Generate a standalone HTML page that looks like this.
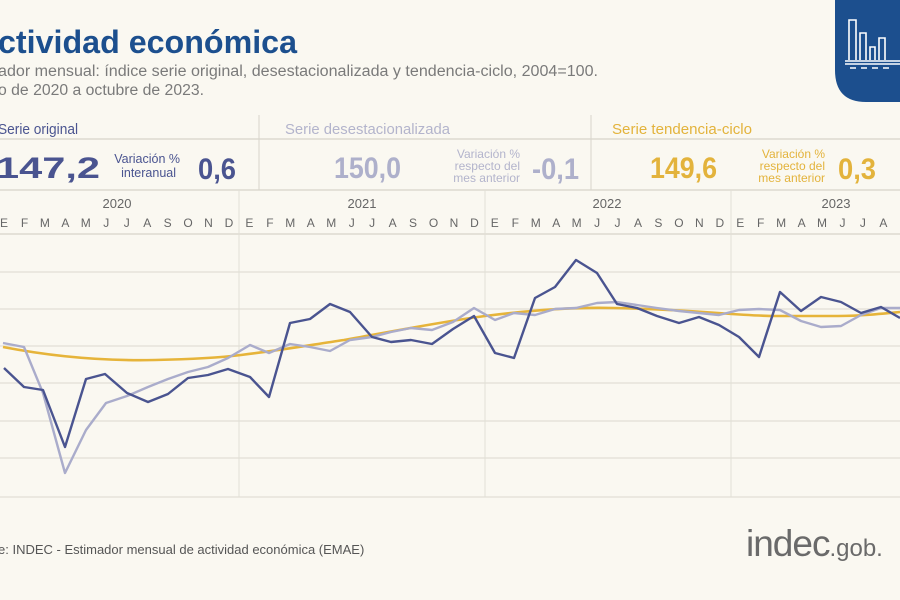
<!DOCTYPE html>
<html><head><meta charset="utf-8"><style>
html,body{margin:0;padding:0;background:#faf8f1;}
svg{display:block;font-family:"Liberation Sans",sans-serif;}
</style></head><body>
<svg width="900" height="600" viewBox="0 0 900 600" xmlns="http://www.w3.org/2000/svg">
<rect width="900" height="600" fill="#faf8f1"/>
<path d="M835 0 H900 V102 H866 Q835 102 835 70 Z" fill="#1c4f8e"/>
<g stroke="#fff" stroke-width="1.6" fill="none">
<path d="M849 60 V20 H856 V60"/><path d="M860 60 V33 H866 V60"/><path d="M870 60 V47 H875 V60"/><path d="M879 60 V38 H885 V60"/>
<path d="M845 61 H900"/><path d="M845 64 H900"/><path d="M850 68 H856 M861 68 H867 M872 68 H878 M883 68 H889"/>
</g>
<text x="-2" y="53" font-size="32" font-weight="bold" fill="#1c4f8e" textLength="299" lengthAdjust="spacingAndGlyphs">ctividad económica</text>
<text x="-2" y="76" font-size="15.5" fill="#7a7a7a" textLength="600" lengthAdjust="spacingAndGlyphs">ador mensual: índice serie original, desestacionalizada y tendencia-ciclo, 2004=100.</text>
<text x="-2" y="95" font-size="15.5" fill="#7a7a7a" textLength="206" lengthAdjust="spacingAndGlyphs">o de 2020 a octubre de 2023.</text>
<g stroke="#e4e1d8" stroke-width="2">
<line x1="0" y1="139" x2="900" y2="139"/><line x1="0" y1="190" x2="900" y2="190"/><line x1="0" y1="234" x2="900" y2="234"/>
</g>
<g stroke="#d8d5cc" stroke-width="1">
<line x1="259" y1="115" x2="259" y2="190"/><line x1="591" y1="115" x2="591" y2="190"/>
</g>
<text x="-2" y="134" font-size="15" fill="#4a5490" textLength="80" lengthAdjust="spacingAndGlyphs">Serie original</text>
<text x="285" y="134" font-size="15" fill="#b3b4cc" textLength="165" lengthAdjust="spacingAndGlyphs">Serie desestacionalizada</text>
<text x="612" y="134" font-size="15" fill="#e3b33c" textLength="140" lengthAdjust="spacingAndGlyphs">Serie tendencia-ciclo</text>
<text x="-4" y="178" font-size="30" font-weight="bold" fill="#4a5490" textLength="104" lengthAdjust="spacingAndGlyphs">147,2</text>
<text x="180" y="163" font-size="12.5" fill="#4a5490" text-anchor="end">Variación %</text>
<text x="176" y="177" font-size="12.5" fill="#4a5490" text-anchor="end">interanual</text>
<text x="198" y="179" font-size="30" font-weight="bold" fill="#4a5490" textLength="38" lengthAdjust="spacingAndGlyphs">0,6</text>
<text x="334" y="178" font-size="30" font-weight="bold" fill="#aeb0cb" textLength="67" lengthAdjust="spacingAndGlyphs">150,0</text>
<text x="520" y="158" font-size="12" fill="#b3b4cc" text-anchor="end">Variación %</text>
<text x="520" y="170" font-size="12" fill="#b3b4cc" text-anchor="end">respecto del</text>
<text x="520" y="182" font-size="12" fill="#b3b4cc" text-anchor="end">mes anterior</text>
<text x="532" y="179" font-size="30" font-weight="bold" fill="#aeb0cb" textLength="47" lengthAdjust="spacingAndGlyphs">-0,1</text>
<text x="650" y="178" font-size="30" font-weight="bold" fill="#e3b33c" textLength="67" lengthAdjust="spacingAndGlyphs">149,6</text>
<text x="825" y="158" font-size="12" fill="#e3b33c" text-anchor="end">Variación %</text>
<text x="825" y="170" font-size="12" fill="#e3b33c" text-anchor="end">respecto del</text>
<text x="825" y="182" font-size="12" fill="#e3b33c" text-anchor="end">mes anterior</text>
<text x="838" y="179" font-size="30" font-weight="bold" fill="#e3b33c" textLength="38" lengthAdjust="spacingAndGlyphs">0,3</text>
<g font-size="13" fill="#666" text-anchor="middle">
<text x="117" y="208">2020</text><text x="362" y="208">2021</text><text x="607" y="208">2022</text><text x="836" y="208">2023</text>
</g>
<g font-size="12" fill="#666" text-anchor="middle">
<text x="4" y="227">E</text><text x="24.5" y="227">F</text><text x="44.9" y="227">M</text><text x="65.4" y="227">A</text><text x="85.8" y="227">M</text><text x="106.3" y="227">J</text><text x="126.7" y="227">J</text><text x="147.2" y="227">A</text><text x="167.6" y="227">S</text><text x="188.1" y="227">O</text><text x="208.5" y="227">N</text><text x="229" y="227">D</text>
<text x="249.4" y="227">E</text><text x="269.9" y="227">F</text><text x="290.3" y="227">M</text><text x="310.8" y="227">A</text><text x="331.2" y="227">M</text><text x="351.7" y="227">J</text><text x="372.1" y="227">J</text><text x="392.6" y="227">A</text><text x="413" y="227">S</text><text x="433.5" y="227">O</text><text x="453.9" y="227">N</text><text x="474.4" y="227">D</text>
<text x="494.8" y="227">E</text><text x="515.3" y="227">F</text><text x="535.7" y="227">M</text><text x="556.2" y="227">A</text><text x="576.6" y="227">M</text><text x="597.1" y="227">J</text><text x="617.5" y="227">J</text><text x="638" y="227">A</text><text x="658.4" y="227">S</text><text x="678.9" y="227">O</text><text x="699.3" y="227">N</text><text x="719.8" y="227">D</text>
<text x="740.2" y="227">E</text><text x="760.7" y="227">F</text><text x="781.1" y="227">M</text><text x="801.6" y="227">A</text><text x="822" y="227">M</text><text x="842.5" y="227">J</text><text x="862.9" y="227">J</text><text x="883.4" y="227">A</text><text x="903.8" y="227">S</text>
</g>
<g stroke="#e6e3da" stroke-width="1.5">
<line x1="0" y1="272" x2="900" y2="272"/><line x1="0" y1="309" x2="900" y2="309"/><line x1="0" y1="346" x2="900" y2="346"/>
<line x1="0" y1="383" x2="900" y2="383"/><line x1="0" y1="421" x2="900" y2="421"/><line x1="0" y1="458" x2="900" y2="458"/>
<line x1="0" y1="497" x2="900" y2="497"/>
</g>
<g stroke="#e2dfd6" stroke-width="1">
<line x1="239" y1="190" x2="239" y2="497"/><line x1="485" y1="190" x2="485" y2="497"/><line x1="731" y1="190" x2="731" y2="497"/>
</g>
<path fill="none" stroke="#e6b43a" stroke-width="2.6" d="M3 347 C60 358 110 361 155 360 C200 359 225 357 241 355 C290 349 310 345 344 340 C400 330 440 322 485 316 C540 309 580 307 614 308 C660 309 690 311 718 313 C745 315 760 316 775 316 C800 316 820 316 838 316 C860 316 880 314 900 312"/>
<polyline fill="none" stroke="#aaaccb" stroke-width="2.4" stroke-linejoin="round" points="3,343 24,347 43,393 65,473 86,430 106,403 127,396 148,387 168,379 188,372 208,367 228,358 250,345 269,353 290,344 310,347 330,351 350,340 372,337 391,332 411,328 432,330 453,322 474,308 495,320 514,313 535,315 555,309 576,308 597,303 617,302 637,305 657,308 679,311 699,313 719,315 739,310 759,309 780,310 801,321 821,327 841,326 861,315 881,308 900,308"/>
<polyline fill="none" stroke="#4a5490" stroke-width="2.4" stroke-linejoin="round" points="4,368 24,387 43,390 65,447 86,379 105,374 127,393 148,402 168,394 188,378 208,375 228,369 250,377 269,397 290,323 310,319 330,304 350,312 372,337 391,342 411,340 432,344 453,329 474,316 495,353 514,358 535,298 555,287 576,260 597,273 617,304 637,308 657,316 679,323 699,317 719,325 739,337 759,357 780,292 801,311 821,297 841,302 861,313 881,307 900,318"/>
<text x="-2" y="554" font-size="13" fill="#555">e: INDEC - Estimador mensual de actividad económica (EMAE)</text>
<text x="746" y="556" font-size="37" fill="#6a6a6a" letter-spacing="-1">indec<tspan font-size="24" letter-spacing="0">.gob.</tspan></text>
</svg>
</body></html>
